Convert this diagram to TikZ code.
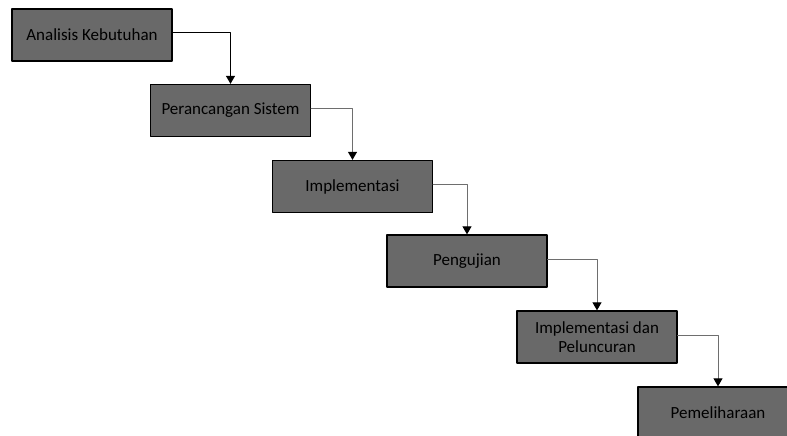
\documentclass[tikz,border=0pt]{standalone}
\usepackage{fontspec}
\setmainfont{Carlito}
\usepackage{tikz}
\usetikzlibrary{arrows.meta}
\definecolor{boxgray}{RGB}{105,105,105}
\definecolor{linegray}{RGB}{110,110,110}

\begin{document}
\begin{tikzpicture}[line cap=round,line join=round,>={Triangle[width=9pt,length=8pt,color=black]},x=1pt,y=-1pt, phase/.style={rectangle, draw=black, line width=1.3pt, fill=boxgray, minimum width=160pt, minimum height=52pt, align=center, font=\fontsize{17}{19}\selectfont}, link/.style={->, draw=linegray, line width=1pt}]
                    \useasboundingbox (0,0) rectangle (787,436);

                    \node[phase] (1) at (92,35) {Analisis Kebutuhan};
                    \node[phase] (2) at (230.5,110.5) {Perancangan Sistem};
                    \node[phase] (3) at (352.5,186.5) {Implementasi};
                    \node[phase] (4) at (467,261) {Pengujian};
                    \node[phase] (5) at (597,337) {Implementasi dan\\Peluncuran};
                    \node[phase] (6) at (718,413) {Pemeliharaan};

                    \draw [link, draw=black] ([yshift=2pt]1.east) -| (2.north);
                    \draw [link] ([yshift=2pt]2.east) -| (3.north);
                    \draw [link] ([yshift=2pt]3.east) -| (4.north);
                    \draw [link] ([yshift=2pt]4.east) -| (5.north);
                    \draw [link] ([yshift=2pt]5.east) -| (6.north);
                \end{tikzpicture}
\end{document}
